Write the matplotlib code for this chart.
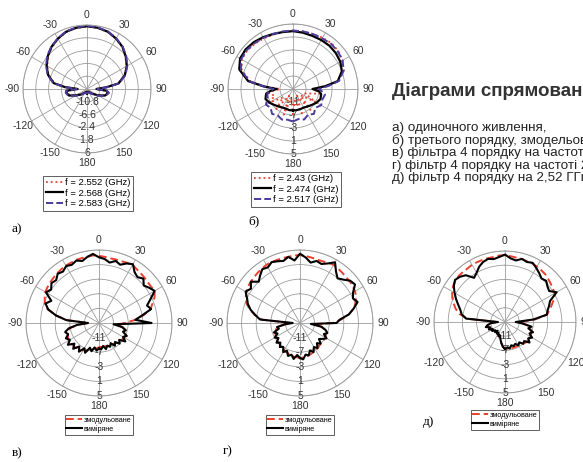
import numpy as np
import matplotlib.pyplot as plt

plt.rcParams['font.family'] = ['Liberation Sans', 'DejaVu Sans']

W, H = 583, 462

# ---- a) single feed, three frequencies (dB) ----
ang_a = [-180, -165, -150, -135, -120, -110, -100, -95, -90, -85, -80, -70, -60, -50, -40,
         -30, -20, -10, 0, 10, 20, 30, 40, 50, 60, 70, 80, 85, 90, 95, 100, 110, 120, 135,
         150, 165, 180]
a_2552 = [-13.8, -14.2, -13.9, -12.8, -11.2, -9.0, -8.4, -8.6, -12.2, -8.0, -4.2, -1.6, 0.1,
          1.6, 2.9, 4.0, 4.9, 5.3, 5.5, 5.3, 4.9, 4.0, 3.0, 1.5, 0.0, -1.9, -4.7, -9.0, -12.2,
          -9.0, -8.2, -9.0, -11.1, -13.1, -14.1, -14.1, -13.8]
a_2568 = [-13.5, -14.0, -13.7, -12.5, -10.8, -8.7, -8.1, -8.3, -11.9, -7.7, -3.9, -1.4, 0.3,
          1.8, 3.1, 4.1, 5.0, 5.4, 5.6, 5.4, 5.0, 4.1, 3.1, 1.6, 0.1, -1.8, -4.5, -8.7, -11.9,
          -8.7, -7.9, -8.7, -10.8, -12.9, -14.0, -14.0, -13.5]
a_2583 = [-13.3, -13.8, -13.5, -12.3, -10.6, -8.5, -7.9, -8.1, -11.6, -7.5, -3.7, -1.2, 0.5,
          2.0, 3.2, 4.2, 5.1, 5.5, 5.7, 5.5, 5.1, 4.2, 3.2, 1.8, 0.3, -1.6, -4.3, -8.5, -11.6,
          -8.5, -7.7, -8.5, -10.6, -12.7, -13.8, -13.8, -13.3]
a_rings = [-10.8, -6.6, -2.4, 1.8, 6]
a_ring_labels = ['-10.8', '-6.6', '-2.4', '1.8', '6']

# ---- б) third order, three frequencies (dB) ----
ang_b = [-180, -170, -160, -150, -140, -130, -120, -110, -100, -95, -90, -85, -80, -70, -60,
         -50, -40, -30, -20, -10, 0, 10, 20, 30, 40, 50, 60, 70, 80, 85, 90, 95, 100, 110,
         120, 130, 140, 150, 160, 170, 180]
b_243 = [-7.0, -12.0, -6.6, -12.6, -7.0, -11.0, -6.6, -9.0, -7.4, -9.0, -11.0, -6.6, -1.8,
         1.8, 3.2, 3.4, 3.2, 3.0, 2.8, 2.8, 3.0, 3.0, 3.0, 3.2, 3.4, 3.2, 2.6, 1.6, -1.0, -5.0,
         -9.0, -7.4, -6.6, -11.0, -7.0, -12.0, -6.6, -12.6, -7.0, -11.4, -7.0]
b_2474 = [-8.4, -8.4, -8.6, -8.4, -8.0, -7.4, -6.6, -6.0, -6.6, -8.0, -10.0, -6.0, -1.0, 2.6,
          3.8, 4.0, 3.8, 3.4, 3.0, 2.8, 2.8, 2.6, 2.4, 2.4, 2.4, 2.2, 1.8, 1.0, -1.0, -5.0,
          -9.0, -7.0, -6.2, -6.0, -6.6, -7.4, -8.0, -8.4, -8.4, -8.4, -8.4]
b_2517 = [-5.0, -5.4, -5.0, -5.6, -5.0, -6.0, -5.4, -6.6, -7.0, -8.0, -9.0, -6.0, -1.4, 2.0,
          3.4, 3.6, 3.4, 3.2, 3.0, 3.0, 3.0, 3.0, 3.0, 3.0, 3.2, 3.0, 2.6, 1.6, -0.6, -4.0,
          -7.0, -6.0, -5.0, -5.4, -5.0, -6.0, -5.0, -5.8, -5.0, -5.6, -5.0]
m_rings = [-11, -7, -3, 1, 5]
m_ring_labels = ['-11', '-7', '-3', '1', '5']

# ---- в), г), д) simulated vs measured, every 5 deg from -180 to 180 (dB) ----
ang_m = list(range(-180, 181, 5))
v_sim = [-8.4, -8.0, -8.0, -7.4, -7.0, -6.6, -6.4, -6.0, -6.0, -5.6, -5.6, -5.4, -5.4, -5.6,
         -6.0, -6.0, -7.0, -9.0, -12.0, -6.4, -3.0, -0.4, 0.8, 1.4, 2.0, 2.2, 2.4, 2.6, 2.8,
         3.0, 3.2, 3.2, 3.4, 3.4, 3.4, 3.6, 3.4, 3.2, 3.0, 3.0, 3.0, 3.2, 3.4, 3.0, 2.8, 2.6,
         2.4, 2.4, 2.6, 1.8, 0.6, -0.4, -2.6, -5.0, -8.0, -10.0, -8.4, -7.6, -7.2, -7.0, -7.0,
         -7.2, -7.4, -7.6, -7.8, -8.0, -8.2, -8.2, -8.4, -8.4, -8.4, -8.4, -8.4]
v_meas = [-8.0, -7.4, -8.2, -7.0, -7.8, -6.0, -7.0, -5.4, -6.6, -5.0, -6.2, -4.6, -5.8, -5.0,
          -6.0, -5.4, -6.6, -9.0, -12.0, -6.0, -3.0, -0.6, 0.6, -0.6, 1.8, 1.0, 2.0, 1.6, 2.6,
          2.2, 3.0, 2.6, 3.2, 2.6, 3.4, 4.0, 3.0, 2.6, 1.8, 2.6, 2.0, 3.0, 3.6, 2.0, 1.4, 2.2,
          1.0, 1.8, 2.6, 0.6, -1.0, -0.2, -3.0, -5.0, -0.6, -11.0, -8.6, -7.4, -8.0, -6.6,
          -7.4, -6.2, -7.8, -7.0, -8.2, -7.4, -8.6, -7.8, -8.4, -7.6, -8.6, -7.8, -8.0]
g_sim = [-5.4, -5.6, -5.6, -5.8, -6.0, -6.2, -6.4, -6.6, -6.8, -7.0, -7.0, -7.2, -7.4, -7.6,
         -7.8, -8.2, -8.8, -10.5, -12.5, -4.6, -2.4, -0.8, 0.6, 1.4, 2.0, 2.4, 2.6, 2.8, 3.0,
         3.2, 3.4, 3.4, 3.4, 3.4, 3.4, 3.6, 3.6, 3.4, 3.2, 3.0, 3.0, 3.2, 3.4, 3.2, 3.0, 2.8,
         2.8, 2.6, 2.4, 2.0, 1.2, 0.2, -1.4, -3.6, -6.0, -11.0, -9.0, -8.0, -7.4, -7.2, -7.0,
         -7.0, -7.0, -7.0, -6.8, -6.6, -6.4, -6.2, -6.0, -5.8, -5.6, -5.5, -5.4]
g_meas = [-5.4, -6.2, -5.0, -6.0, -5.4, -6.6, -5.8, -7.0, -6.4, -7.4, -6.6, -7.8, -7.0, -8.2,
          -7.4, -9.0, -8.6, -11.0, -13.0, -4.0, -2.6, -1.0, 0.2, 1.0, 2.2, 1.4, 2.6, 1.0, 2.0,
          3.0, 2.6, 3.4, 3.0, 2.6, 3.4, 2.2, 4.0, 3.0, 1.8, 2.6, 2.2, 3.0, 4.2, 2.2, 1.0, 1.8,
          3.0, 3.4, 1.8, 1.0, 1.8, 0.2, -1.4, -4.0, -5.0, -12.0, -9.0, -7.8, -7.0, -7.8, -6.6,
          -7.4, -8.2, -7.0, -7.8, -6.6, -7.4, -6.2, -7.0, -5.8, -6.2, -5.0, -5.4]
d_sim = [-7.4, -8.2, -9.0, -9.8, -10.4, -10.8, -11.0, -11.2, -11.2, -11.2, -11.0, -10.8, -10.6,
         -10.4, -10.2, -10.0, -10.4, -11.0, -12.5, -4.4, -2.0, -0.6, 0.4, 1.4, 2.2, 2.8, 3.2,
         3.4, 3.4, 3.4, 3.6, 3.6, 3.6, 3.6, 3.6, 3.8, 3.8, 3.6, 3.4, 3.4, 3.2, 3.2, 3.0, 2.8,
         2.6, 2.2, 1.8, 1.4, 1.2, 0.2, -1.0, -2.0, -3.0, -6.4, -11.0, -9.8, -8.0, -7.6, -7.2,
         -7.0, -6.8, -6.6, -6.6, -6.8, -7.0, -7.2, -7.4, -7.4, -7.4, -7.4, -7.4, -7.4, -7.4]
d_meas = [-7.4, -8.0, -9.0, -10.0, -11.0, -10.6, -11.4, -11.0, -11.8, -11.0, -11.4, -10.6,
          -11.0, -10.0, -10.6, -9.4, -10.0, -11.0, -13.0, -4.0, -2.6, -2.0, -1.0, 0.2, 1.4,
          2.6, 3.4, 3.0, 2.2, 0.2, 1.0, 2.2, 3.0, 3.4, 3.0, 3.4, 4.0, 3.0, 2.6, 3.4, 3.0, 3.4,
          2.6, 1.8, 1.0, 1.4, 0.6, 0.2, 1.8, -1.0, -1.8, -2.6, -3.0, -7.0, -12.0, -10.0, -7.4,
          -8.2, -6.6, -7.4, -6.2, -7.0, -6.0, -7.4, -7.0, -8.0, -7.4, -8.2, -7.8, -8.2, -7.4,
          -7.8, -7.4]

theta_labels = ['0', '30', '60', '90', '120', '150', '180', '-150', '-120', '-90', '-60', '-30']

RED = '#e8412c'
PURPLE = '#4b3a9c'
GRID = '#9c9c9c'

fig = plt.figure(figsize=(W / 100, H / 100), dpi=100)


def polar_at(cx, cy, rad, rmin, rmax, rings, ring_labels):
    """MATLAB-like polar axes centred at pixel (cx, cy) with radius rad."""
    ax = fig.add_axes([(cx - rad) / W, (H - cy - rad) / H, 2 * rad / W, 2 * rad / H],
                      projection='polar')
    ax.set_theta_zero_location('N')
    ax.set_theta_direction(-1)
    ax.set_ylim(rmin, rmax)
    ax.set_thetagrids(range(0, 360, 30), theta_labels)
    ax.set_rgrids(rings, labels=[''] * len(rings))
    ax.grid(True, color=GRID, lw=0.6, ls='-')
    ax.spines['polar'].set_color(GRID)
    ax.spines['polar'].set_linewidth(0.7)
    ax.tick_params(axis='x', pad=-3, labelsize=7.5, colors='#333333')
    for r, lab in zip(rings, ring_labels):
        ax.text(np.pi, r, lab, ha='center', va='center', fontsize=7.5,
                color='#333333', zorder=1.6)
    return ax


def add_legend(ax, cx, top, fs, **kw):
    leg = ax.legend(loc='upper center', bbox_to_anchor=(cx / W, 1 - top / H),
                    bbox_transform=fig.transFigure, fontsize=fs, fancybox=False,
                    edgecolor='#444444', framealpha=1, borderpad=0.25, labelspacing=0.15,
                    handletextpad=0.2, borderaxespad=0, **kw)
    leg.get_frame().set_linewidth(0.6)
    return leg


# a)
ax = polar_at(87, 89, 64, -15, 6, a_rings, a_ring_labels)
ax.plot(np.deg2rad(ang_a), a_2552, color=RED, ls=':', lw=1.3, label='f = 2.552 (GHz)')
ax.plot(np.deg2rad(ang_a), a_2568, color='black', lw=1.6, label='f = 2.568 (GHz)')
ax.plot(np.deg2rad(ang_a), a_2583, color=PURPLE, ls='--', lw=1.4, label='f = 2.583 (GHz)')
add_legend(ax, 88, 176, 6.8, handlelength=1.8)

# б)
ax = polar_at(293, 89, 65, -15, 5, m_rings, m_ring_labels)
ax.plot(np.deg2rad(ang_b), b_243, color=RED, ls=':', lw=1.3, label='f = 2.43 (GHz)')
ax.plot(np.deg2rad(ang_b), b_2474, color='black', lw=1.6, label='f = 2.474 (GHz)')
ax.plot(np.deg2rad(ang_b), b_2517, color=PURPLE, ls='--', lw=1.4, label='f = 2.517 (GHz)')
add_legend(ax, 296, 172, 6.8, handlelength=1.8)

# в), г), д)
for cx, cy, rad, sim, meas, ltop in [(99, 323, 73, v_sim, v_meas, 415),
                                      (300, 323, 73, g_sim, g_meas, 415),
                                      (505, 322, 71, d_sim, d_meas, 410)]:
    ax = polar_at(cx, cy, rad, -15, 5, m_rings, m_ring_labels)
    ax.plot(np.deg2rad(ang_m), sim, color=RED, ls='--', lw=1.4, dashes=(4, 2),
            label='змодульоване')
    ax.plot(np.deg2rad(ang_m), meas, color='black', lw=1.5, label='виміряне')
    add_legend(ax, cx, ltop, 5.2, handlelength=2.2)

# panel letters
for x, y, s in [(12, 229, 'а)'), (248, 221, 'б)'), (12, 453, 'в)'), (223, 451, 'г)'),
                (423, 422, 'д)')]:
    fig.text(x / W, 1 - y / H, s, family='Liberation Serif', fontsize=9.5, va='center')

# caption on the right (cut by the right edge as in the source slide)
fig.text(392 / W, 1 - 91 / H, 'Діаграми спрямованості', fontsize=13.5, fontweight='bold',
         color='#333333', va='center')
captions = ['а) одиночного живлення,',
            'б) третього порядку, змодельовані та виміряні,',
            'в) фільтра 4 порядку на частоті 2,45 ГГц,',
            'г) фільтр 4 порядку на частоті 2,47 ГГц,',
            'д) фільтр 4 порядку на 2,52 ГГц']
for i, s in enumerate(captions):
    fig.text(392 / W, 1 - (128 + 12.5 * i) / H, s, fontsize=9.6, color='#222222', va='center')

fig.savefig('out.png', dpi=100)
